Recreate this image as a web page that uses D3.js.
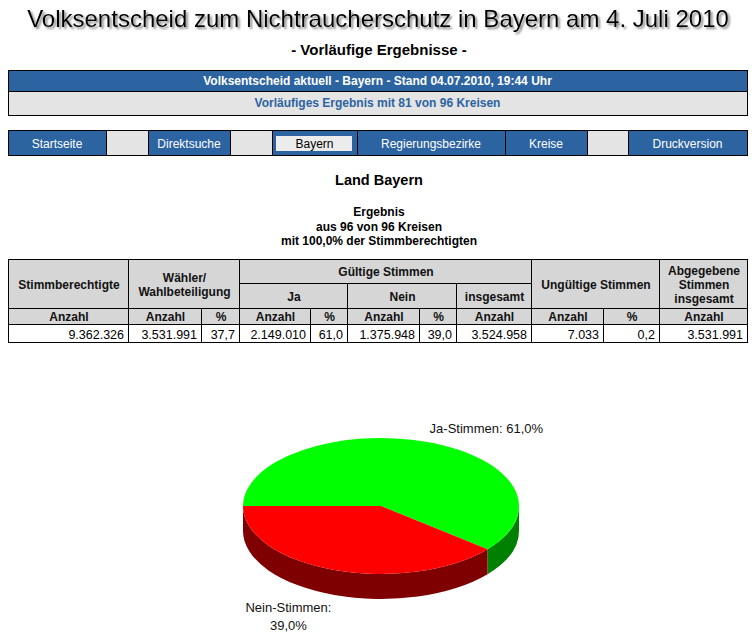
<!DOCTYPE html>
<html>
<head>
<meta charset="utf-8">
<script src="https://cdn.jsdelivr.net/npm/d3@7"></script>
<style>
  body { margin: 0; background: #fff; }
  svg { display: block; font-family: Arial, "Liberation Sans", sans-serif; }
</style>
</head>
<body>
<div id="chart"></div>
<script>
(function() {

    "use strict";

    // ---- data -------------------------------------------------------------
    var titleText = "Volksentscheid zum Nichtraucherschutz in Bayern am 4. Juli 2010";
    var subtitleText = "- Vorläufige Ergebnisse -";
    var statusText = "Volksentscheid aktuell - Bayern - Stand 04.07.2010, 19:44 Uhr";
    var progressText = "Vorläufiges Ergebnis mit 81 von 96 Kreisen";

    var navLabels = ["Startseite", "", "Direktsuche", "", "Bayern", "Regierungsbezirke", "Kreise", "", "Druckversion"];
    var navActive = "Bayern";

    var areaTitle = "Land Bayern";
    var resultLines = ["Ergebnis", "aus 96 von 96 Kreisen", "mit 100,0% der Stimmberechtigten"];

    var unitRow = ["Anzahl", "Anzahl", "%", "Anzahl", "%", "Anzahl", "%", "Anzahl", "Anzahl", "%", "Anzahl"];
    var resultRow = [9362326, 3531991, 37.7, 2149010, 61.0, 1375948, 39.0, 3524958, 7033, 0.2, 3531991];

    var voteLabels = ["Ja-Stimmen", "Nein-Stimmen"];
    var voteCounts = [2149010, 1375948];

    // ---- layout -----------------------------------------------------------
    var width = 756, height = 642;
    var left = 8, right = 747;
    var blue = "#2c63a1", lightGrey = "#e4e4e4", headGrey = "#d6d6d6";

    var de = d3.formatLocale({ decimal: ",", thousands: ".", grouping: [3], currency: ["", " €"] });
    var fmtCount = de.format(",d");
    var fmtPct = de.format(".1f");

    var svg = d3.select("#chart").append("svg")
        .attr("width", width)
        .attr("height", height);

    var defs = svg.append("defs");
    defs.append("filter")
        .attr("id", "shadow")
        .attr("x", "-5%").attr("y", "-30%")
        .attr("width", "110%").attr("height", "160%")
        .append("feDropShadow")
        .attr("dx", 2).attr("dy", 2)
        .attr("stdDeviation", 1.3)
        .attr("flood-color", "#777")
        .attr("flood-opacity", 0.9);

    function box(g, x0, y0, x1, y1, fill) {
        return g.append("rect")
            .attr("x", x0 + 0.5).attr("y", y0 + 0.5)
            .attr("width", x1 - x0).attr("height", y1 - y0)
            .attr("fill", fill)
            .attr("stroke", "#000")
            .attr("stroke-width", 1)
            .attr("shape-rendering", "crispEdges");
    }

    // ---- titles -----------------------------------------------------------
    svg.append("text")
        .attr("x", width / 2).attr("y", 27)
        .attr("text-anchor", "middle")
        .attr("font-size", 24)
        .attr("filter", "url(#shadow)")
        .text(titleText);

    svg.append("text")
        .attr("x", width / 2 + 1).attr("y", 55)
        .attr("text-anchor", "middle")
        .attr("font-size", 15)
        .attr("font-weight", "bold")
        .text(subtitleText);

    // ---- status box -------------------------------------------------------
    var status = svg.append("g");
    box(status, left, 70, right, 91, blue);
    box(status, left, 91, right, 115, lightGrey);
    status.append("text")
        .attr("x", (left + right) / 2).attr("y", 85)
        .attr("text-anchor", "middle")
        .attr("font-size", 12).attr("font-weight", "bold")
        .attr("fill", "#fff")
        .text(statusText);
    status.append("text")
        .attr("x", (left + right) / 2).attr("y", 107)
        .attr("text-anchor", "middle")
        .attr("font-size", 12).attr("font-weight", "bold")
        .attr("fill", blue)
        .text(progressText);

    // ---- navigation -------------------------------------------------------
    var navEdges = [left, 106, 148, 230, 272, 357, 505, 587, 628, right];
    var nav = svg.append("g");
    navLabels.forEach(function(label, i) {
        var x0 = navEdges[i], x1 = navEdges[i + 1];
        box(nav, x0, 130, x1, 155, label ? blue : lightGrey);
        if (label === navActive) {
            nav.append("rect")
                .attr("x", x0 + 4).attr("y", 136)
                .attr("width", x1 - x0 - 9).attr("height", 15)
                .attr("fill", "#ececec")
                .attr("shape-rendering", "crispEdges");
        }
        if (label) {
            nav.append("text")
                .attr("x", (x0 + x1) / 2).attr("y", 148)
                .attr("text-anchor", "middle")
                .attr("font-size", 12)
                .attr("fill", label === navActive ? "#000" : "#fff")
                .text(label);
        }
    });

    // ---- area heading -----------------------------------------------------
    svg.append("text")
        .attr("x", width / 2 + 1).attr("y", 185)
        .attr("text-anchor", "middle")
        .attr("font-size", 14.5).attr("font-weight", "bold")
        .text(areaTitle);

    svg.append("g").selectAll("text")
        .data(resultLines)
        .join("text")
        .attr("x", width / 2 + 1)
        .attr("y", function(d, i) { return 216 + i * 14.5; })
        .attr("text-anchor", "middle")
        .attr("font-size", 12).attr("font-weight", "bold")
        .text(function(d) { return d; });

    // ---- result table -----------------------------------------------------
    var colEdges = [left, 128, 201, 239, 310, 347, 419, 456, 531, 603, 659, right];
    var rowEdges = [259, 283, 308, 324, 342];

    // header cells: [first col, last col + 1, first row, last row + 1, lines]
    var headCells = [
        [0, 1, 0, 2, ["Stimmberechtigte"]],
        [1, 3, 0, 2, ["Wähler/", "Wahlbeteiligung"]],
        [3, 8, 0, 1, ["Gültige Stimmen"]],
        [3, 5, 1, 2, ["Ja"]],
        [5, 7, 1, 2, ["Nein"]],
        [7, 8, 1, 2, ["insgesamt"]],
        [8, 10, 0, 2, ["Ungültige Stimmen"]],
        [10, 11, 0, 2, ["Abgegebene", "Stimmen", "insgesamt"]]
    ];
    unitRow.forEach(function(u, i) { headCells.push([i, i + 1, 2, 3, [u]]); });

    var table = svg.append("g");
    var fs = 12, lh = 14;
    headCells.forEach(function(c) {
        var x0 = colEdges[c[0]], x1 = colEdges[c[1]];
        var y0 = rowEdges[c[2]], y1 = rowEdges[c[3]];
        box(table, x0, y0, x1, y1, headGrey);
        var lines = c[4];
        var mid = (y0 + y1) / 2 + 1;
        table.append("g").selectAll("text")
            .data(lines)
            .join("text")
            .attr("x", (x0 + x1) / 2 + 1)
            .attr("y", function(d, i) { return mid + (i - (lines.length - 1) / 2) * lh + fs * 0.36; })
            .attr("text-anchor", "middle")
            .attr("font-size", fs).attr("font-weight", "bold")
            .attr("fill", "#111")
            .text(function(d) { return d; });
    });

    resultRow.forEach(function(v, i) {
        var x0 = colEdges[i], x1 = colEdges[i + 1];
        box(table, x0, rowEdges[3], x1, rowEdges[4], "#fff");
        table.append("text")
            .attr("x", x1 - 4)
            .attr("y", (rowEdges[3] + rowEdges[4]) / 2 + 1 + 12.5 * 0.36)
            .attr("text-anchor", "end")
            .attr("font-size", 12.5)
            .text(unitRow[i] === "%" ? fmtPct(v) : fmtCount(v));
    });

    // ---- 3D pie -----------------------------------------------------------
    var cx = 381, cy = 506, rx = 138, ry = 68, depth = 25;
    var topColors = d3.scaleOrdinal().domain(voteLabels).range(["#00ff00", "#ff0000"]);
    var sideColors = d3.scaleOrdinal().domain(voteLabels).range(["#008000", "#7f0000"]);

    var pie = d3.pie()
        .sort(null)
        .startAngle(1.5 * Math.PI)
        .endAngle(3.5 * Math.PI)
        .value(function(d) { return d.count; });

    var slices = pie(voteLabels.map(function(l, i) { return { label: l, count: voteCounts[i] }; }));
    var total = d3.sum(voteCounts);

    function rim(a, dy) {
        return [rx * Math.sin(a), -ry * Math.cos(a) + (dy || 0)];
    }

    // visible wall: the part of each slice facing the viewer (d3 angles pi/2..3pi/2)
    function wallPath(d) {
        var parts = [];
        [0, 2 * Math.PI].forEach(function(off) {
            var a0 = Math.max(d.startAngle, Math.PI / 2 + off);
            var a1 = Math.min(d.endAngle, 1.5 * Math.PI + off);
            if (a1 > a0) {
                var p0 = rim(a0), p1 = rim(a1), q1 = rim(a1, depth), q0 = rim(a0, depth);
                var large = (a1 - a0) > Math.PI ? 1 : 0;
                parts.push("M" + p0 + "A" + rx + "," + ry + " 0 " + large + " 1 " + p1 +
                    "L" + q1 + "A" + rx + "," + ry + " 0 " + large + " 0 " + q0 + "Z");
            }
        });
        return parts.join("");
    }

    var pieG = svg.append("g").attr("transform", "translate(" + cx + "," + cy + ")");

    pieG.append("g").selectAll("path")
        .data(slices)
        .join("path")
        .attr("d", wallPath)
        .attr("fill", function(d) { return sideColors(d.data.label); });

    var arc = d3.arc().innerRadius(0).outerRadius(rx);
    pieG.append("g")
        .attr("transform", "scale(1," + (ry / rx) + ")")
        .selectAll("path")
        .data(slices)
        .join("path")
        .attr("d", arc)
        .attr("fill", function(d) { return topColors(d.data.label); });

    // labels, anchored at the rim point of each slice's middle angle
    slices.forEach(function(d) {
        var mid = (d.startAngle + d.endAngle) / 2;
        var p = rim(mid);
        var pctText = de.format(".1%")(d.data.count / total);
        var t = pieG.append("text").attr("font-size", 13).attr("fill", "#111");
        if (Math.cos(mid) > 0) {
            t.attr("x", p[0] + 2).attr("y", p[1] - 9)
                .attr("text-anchor", "start")
                .text(d.data.label + ": " + pctText);
        } else {
            t.attr("text-anchor", "middle");
            t.append("tspan").attr("x", p[0] - 46).attr("y", p[1] + depth + 17).text(d.data.label + ":");
            t.append("tspan").attr("x", p[0] - 46).attr("y", p[1] + depth + 35).text(pctText);
        }
    });

})();
</script>
</body>
</html>
